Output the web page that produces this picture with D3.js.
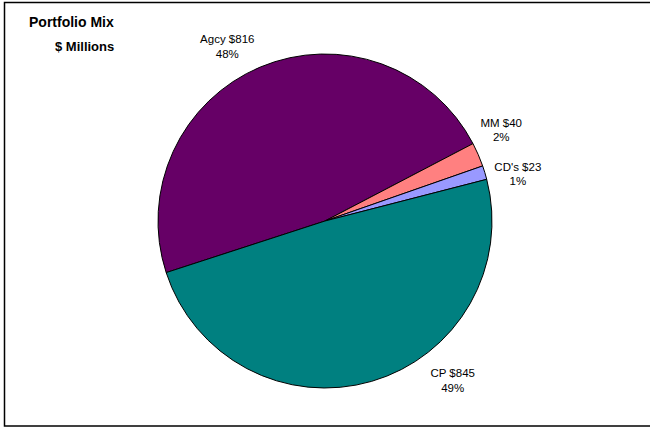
<!DOCTYPE html>
<html>
<head>
<meta charset="utf-8">
<script src="https://cdn.jsdelivr.net/npm/d3@7/dist/d3.min.js"></script>
<style>
  html, body { margin: 0; padding: 0; background: #fff; }
  svg { display: block; }
  text { font-family: "Liberation Sans", Arial, sans-serif; fill: #000; }
</style>
</head>
<body>
<script>
// Portfolio holdings, $ millions
const categories = ["Agcy", "MM", "CD's", "CP"];
const amounts = [816, 40, 23, 845];
const percentLabels = ["48%", "2%", "1%", "49%"];
const colors = ["#660066", "#FF8080", "#9999FF", "#008080"];

const width = 650, height = 428;
const svg = d3.select("body").append("svg")
  .attr("width", width).attr("height", height);

// outer frame
svg.append("rect")
  .attr("x", 4.5).attr("y", 2.5)
  .attr("width", 650).attr("height", 423.5)
  .attr("fill", "none").attr("stroke", "#000").attr("stroke-width", 1.5);

svg.append("text").attr("x", 29).attr("y", 27)
  .attr("font-size", 14).attr("font-weight", "bold").text("Portfolio Mix");
svg.append("text").attr("x", 55).attr("y", 51)
  .attr("font-size", 13).attr("font-weight", "bold").text("$ Millions");

const cx = 325, cy = 221, r = 167;
const start = -108 * Math.PI / 180;

const pie = d3.pie().sort(null).value(d => d)
  .startAngle(start).endAngle(start + 2 * Math.PI);
const arcs = pie(amounts);
const arc = d3.arc().innerRadius(0).outerRadius(r);

const g = svg.append("g").attr("transform", `translate(${cx},${cy})`);
g.selectAll("path").data(arcs).join("path")
  .attr("d", arc)
  .attr("fill", (d, i) => colors[i])
  .attr("stroke", "#000").attr("stroke-width", 1);

// each label is nudged away from the rim point at its slice's mid-angle
const labelNudge = [[-33, -24], [23, -28], [33, -2], [81, -4]];
const labels = svg.append("g").attr("font-size", 11.5).attr("text-anchor", "middle");
arcs.forEach((a, i) => {
  const mid = (a.startAngle + a.endAngle) / 2;
  const x = cx + r * Math.sin(mid) + labelNudge[i][0];
  const y = cy - r * Math.cos(mid) + labelNudge[i][1];
  const t = labels.append("text").attr("x", x).attr("y", y);
  t.append("tspan").attr("x", x).attr("dy", 0).text(`${categories[i]} $${amounts[i]}`);
  t.append("tspan").attr("x", x).attr("dy", 14.5).text(percentLabels[i]);
});
</script>
</body>
</html>
